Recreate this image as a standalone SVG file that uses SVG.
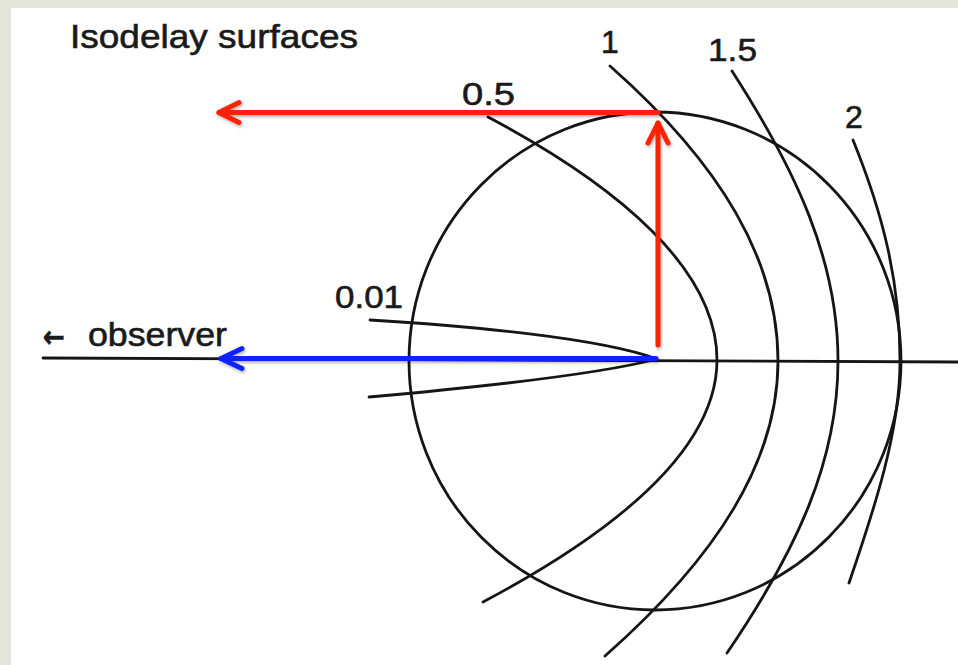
<svg xmlns="http://www.w3.org/2000/svg" width="958" height="665" viewBox="0 0 958 665">
  <style>
    .ink { fill: none; stroke: #151515; stroke-width: 2.8; stroke-linecap: round; stroke-linejoin: round; }
    .lbl { font-family: "Liberation Sans", Arial, sans-serif; fill: #1a1a1a; stroke: #1a1a1a; stroke-width: 0.6; }
    .red { fill: none; stroke: #ff2200; stroke-width: 5; stroke-linecap: round; }
    .blue { fill: none; stroke: #0a24ff; stroke-width: 5; stroke-linecap: round; }
  </style>
  <defs>
    <filter id="shadow" x="-10%" y="-10%" width="120%" height="130%">
      <feDropShadow dx="1" dy="2" stdDeviation="1.5" flood-color="#000" flood-opacity="0.3"/>
    </filter>
    <marker id="headRed" markerUnits="userSpaceOnUse" markerWidth="30" markerHeight="30" refX="0" refY="0" orient="auto" overflow="visible">
      <path d="M-20,-10 L0,0 L-20,10" fill="none" stroke="#ff2200" stroke-width="5" stroke-linecap="round" stroke-linejoin="round"/>
    </marker>
    <marker id="headBlue" markerUnits="userSpaceOnUse" markerWidth="30" markerHeight="30" refX="0" refY="0" orient="auto" overflow="visible">
      <path d="M-21,-10 L0,0 L-21,10" fill="none" stroke="#0a24ff" stroke-width="5" stroke-linecap="round" stroke-linejoin="round"/>
    </marker>
  </defs>

  <!-- background frame -->
  <rect x="0" y="0" width="958" height="665" fill="#e3e5d8"/>
  <rect x="11" y="8" width="947" height="657" fill="#ffffff"/>

  <g id="title">
    <text class="lbl" x="70" y="48" font-size="33" textLength="288" lengthAdjust="spacingAndGlyphs">Isodelay surfaces</text>
  </g>

  <g id="observer-axis">
    <path class="ink" d="M43,358 L958,362"/>
    <text class="lbl" y="346" font-size="33"><tspan x="43" y="347" font-family="'DejaVu Sans', sans-serif" font-size="30" font-weight="bold" textLength="22" lengthAdjust="spacingAndGlyphs">←</tspan><tspan x="88" y="346" textLength="139" lengthAdjust="spacingAndGlyphs">observer</tspan></text>
  </g>

  <g id="shell">
    <ellipse class="ink" cx="655" cy="361" rx="246" ry="249"/>
  </g>

  <g id="isodelay-0.01">
    <path class="ink" d="M370,320 C470,326 600,338 657,359 C600,374 470,388 369,397"/>
    <text class="lbl" x="335" y="308" font-size="32" textLength="68" lengthAdjust="spacingAndGlyphs">0.01</text>
  </g>

  <g id="isodelay-0.5">
    <path class="ink" d="M488,117 C620,187 717,270 717,360 C717,450 615,532 483,602"/>
    <text class="lbl" x="462" y="105" font-size="32" textLength="53" lengthAdjust="spacingAndGlyphs">0.5</text>
  </g>

  <g id="isodelay-1">
    <path class="ink" d="M610,66 C722,165 778,261 778,361 C778,461 717,557 605,656"/>
    <text class="lbl" x="610" y="53" font-size="32" text-anchor="middle">1</text>
  </g>

  <g id="isodelay-1.5">
    <path class="ink" d="M732,71 C797,172 838,261 838,361 C838,461 797,550 727,653"/>
    <text class="lbl" x="708" y="61" font-size="32" textLength="49" lengthAdjust="spacingAndGlyphs">1.5</text>
  </g>

  <g id="isodelay-2">
    <path class="ink" d="M853,140 C883,214 900,281 900,361 C900,431 875,507 849,583"/>
    <text class="lbl" x="854" y="128" font-size="32" text-anchor="middle">2</text>
  </g>

  <g id="connectors" filter="url(#shadow)">
    <path class="red" d="M658,345 L658,123" marker-end="url(#headRed)"/>
    <path class="red" d="M658,112.5 L219,112.5" marker-end="url(#headRed)"/>
    <path class="blue" d="M656,358.5 L221,358.5" marker-end="url(#headBlue)"/>
  </g>
</svg>
